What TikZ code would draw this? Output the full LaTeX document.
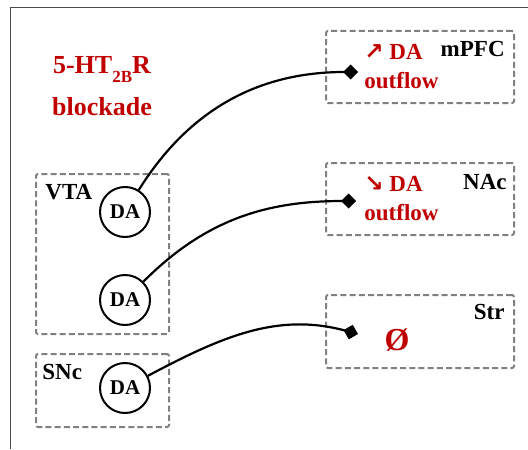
\documentclass[tikz,border=0pt]{standalone}
\usepackage{fontspec}
\setmainfont{Liberation Serif}
\newfontfamily\arrowfont{DejaVu Sans}
\usetikzlibrary{arrows.meta, positioning}
\definecolor{darkred}{RGB}{192,0,0}
\definecolor{boxgray}{RGB}{128,128,128}
\tikzstyle{danode} = [circle, draw, line width=1pt, minimum size=25pt, inner sep=0pt, font=\fontsize{10.5}{12}\selectfont\bfseries]
\tikzstyle{rbox} = [draw=boxgray, line width=1pt, dash pattern=on 3pt off 1.6pt, rounded corners=1pt, inner sep=0pt]
\tikzstyle{area} = [font=\fontsize{11.5}{14}\selectfont\bfseries, inner sep=0pt]
\tikzstyle{effect} = [area, text=darkred, align=left, font=\fontsize{11.5}{14.5}\selectfont\bfseries]
\tikzstyle{link} = [draw, line width=1.1pt, -{Diamond[length=7.5pt, width=7.5pt]}]
\tikzstyle{frameline} = [draw=black!70, line width=0.5pt]

\begin{document}
\begin{tikzpicture}[x=0.5pt, y=0.5pt]
	\useasboundingbox (0,0) rectangle (528,-449);
	\draw [frameline] (528,-8) -- (10,-8) -- (10,-449);

	% source regions
	\node [rbox, minimum width=66.5pt, minimum height=80pt] (vta) at (102.5,-254) {};
	\node [rbox, minimum width=66.5pt, minimum height=36.5pt] (snc) at (102.5,-390.5) {};
	\node [area, anchor=west] (vtalabel) at (45,-192) {VTA};
	\node [area, anchor=west] (snclabel) at (42,-372) {SNc};
	\node [danode] (da1) at (125,-212) {DA};
	\node [danode] (da2) at (125,-300) {DA};
	\node [danode] (da3) at (125,-388) {DA};

	% target regions
	\node [rbox, minimum width=94pt, minimum height=36pt] (mpfc) at (420,-67) {};
	\node [rbox, minimum width=94pt, minimum height=36pt] (nac) at (420,-199) {};
	\node [rbox, minimum width=94pt, minimum height=36.5pt] (str) at (420,-331.5) {};
	\node [area, anchor=east] (mpfclabel) at (505,-49) {mPFC};
	\node [area, anchor=east] (naclabel) at (507,-182) {NAc};
	\node [area, anchor=east] (strlabel) at (505,-312) {Str};
	\node [effect, anchor=west] (mpfcout) at (364,-67) {{\arrowfont ↗} DA\\outflow};
	\node [effect, anchor=west] (nacout) at (364,-199) {{\arrowfont ↘} DA\\outflow};
	\node [text=darkred, font=\fontsize{16}{16}\selectfont\bfseries, inner sep=0pt] (strout) at (397,-340) {Ø};

	\node [effect, align=center, font=\fontsize{13}{21}\selectfont\bfseries] (blockade) at (102,-86) {5-HT\raisebox{-4.5pt}{\fontsize{8.5}{10}\selectfont 2B}R\\blockade};

	% projections
	\coordinate (mpfcend) at (358,-72);
	\coordinate (nacend) at (356,-201);
	\coordinate (strend) at (358,-334);
	\path [link] (da1) to[out=58, in=180] (mpfcend);
	\path [link] (da2) to[out=45, in=180] (nacend);
	\path [link] (da3) to[out=28, in=165] (strend);
\end{tikzpicture}
\end{document}
